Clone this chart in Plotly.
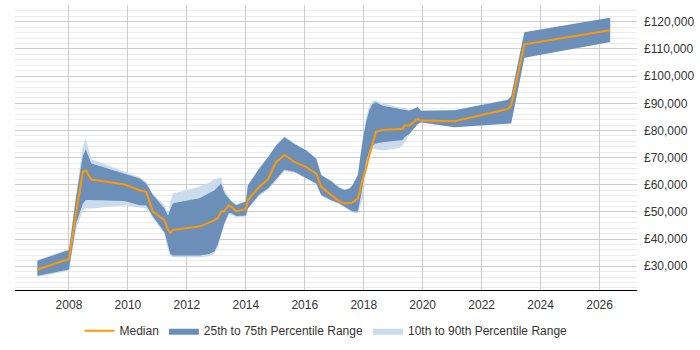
import plotly.graph_objects as go

# decimal-year positions of observations
years = [2006.93, 2008.00, 2008.25, 2008.47, 2008.57, 2008.76, 2009.89, 2010.40, 2010.62, 2010.85,
         2011.24, 2011.36, 2011.44, 2011.53, 2012.43, 2012.77, 2012.94, 2013.05, 2013.16, 2013.28,
         2013.42, 2013.51, 2013.67, 2014.00, 2014.07, 2014.46, 2014.75, 2015.03, 2015.31, 2015.65,
         2016.05, 2016.39, 2016.56, 2016.90, 2017.17, 2017.35, 2017.52, 2017.62, 2017.80, 2017.97,
         2018.08, 2018.19, 2018.30, 2018.41, 2018.64, 2019.20, 2019.32, 2019.38, 2019.55, 2019.83,
         2019.94, 2021.08, 2022.88, 2023.00, 2023.45, 2026.36]

p10 = [26000, 28300, 44000, 50500, 51300, 51300, 52500, 51800, 51300, 47600,
       42000, 36000, 33800, 33300, 33300, 33700, 34800, 37000, 41000, 45500,
       49000, 49000, 48000, 48300, 51000, 56000, 58000, 61500, 65000, 64400,
       62300, 60200, 55900, 54000, 52800, 51500, 50300, 49800, 49500, 55000,
       64000, 70000, 73280, 73000, 72650, 73520, 74500, 75700, 78500, 82200,
       82800, 81200, 82400, 82600, 106800, 112540]

p25 = [26500, 28800, 46000, 53000, 54400, 54400, 54000, 52500, 52500, 48300,
       42500, 37000, 34500, 34000, 34000, 34500, 35500, 38000, 42000, 46000,
       49500, 49500, 48500, 48650, 51300, 56500, 58600, 62000, 65500, 64750,
       62600, 60470, 56190, 54300, 53150, 51900, 50700, 50200, 50100, 59850,
       68400, 72500, 74500, 75200, 75700, 76200, 76500, 77500, 78760, 82400,
       83000, 81200, 82400, 82600, 106800, 112540]

median = [28800, 32700, 50000, 64700, 65300, 61900, 60100, 58000, 57400, 50100,
          47000, 43400, 42300, 43400, 44600, 46100, 47000, 47700, 50100, 50300,
          52500, 51900, 50300, 51000, 54400, 59300, 62000, 68400, 71000, 68400,
          66500, 64130, 59250, 56190, 54000, 53150, 53150, 53520, 54900, 62300,
          66000, 70830, 75500, 79500, 80200, 80500, 80600, 81800, 81800, 84250,
          83630, 83400, 87900, 89120, 111700, 116900]

p75 = [32000, 36000, 56000, 70500, 73000, 67800, 64100, 62300, 60500, 56200,
       51300, 48600, 51000, 53150, 55000, 56800, 58000, 59250, 60500, 56800,
       55000, 53800, 52500, 53800, 59800, 66000, 70000, 74500, 77500, 75000,
       72650, 69620, 63500, 61300, 58900, 58030, 58640, 59850, 63500, 76930,
       83000, 87500, 89740, 90380, 89120, 88000, 87900, 87900, 87290, 88530,
       87290, 87400, 91200, 92560, 116200, 121460]

p90 = [32300, 36300, 57000, 74000, 77000, 69500, 64800, 62800, 61000, 56500,
       52500, 49500, 53500, 56800, 59250, 60800, 62000, 62300, 62800, 58000,
       55500, 54000, 52800, 54000, 60000, 66300, 70300, 74800, 77800, 75300,
       72900, 69900, 63800, 61500, 59100, 58300, 58900, 60100, 64000, 78000,
       85000, 89000, 90900, 91000, 90000, 88500, 88400, 88300, 87500, 88700,
       87300, 87400, 91400, 92700, 116200, 121460]

x_ticks = [2008, 2010, 2012, 2014, 2016, 2018, 2020, 2022, 2024, 2026]
x_tick_labels = [str(y) for y in x_ticks]
y_ticks = [30000, 40000, 50000, 60000, 70000, 80000, 90000, 100000, 110000, 120000]
y_tick_labels = ["£{:,}".format(v) for v in y_ticks]

DARK = "#6b8fb8"
LIGHT = "#c9dbed"
ORANGE = "#ff9900"

fig = go.Figure()

fig.add_trace(go.Scatter(x=years, y=p90, mode="lines", line=dict(width=0, color=LIGHT),
                         showlegend=False, legendgroup="p1090", hoverinfo="skip"))
fig.add_trace(go.Scatter(x=years, y=p10, mode="lines", line=dict(width=0, color=LIGHT),
                         fill="tonexty", fillcolor=LIGHT, name="10th to 90th Percentile Range",
                         legendgroup="p1090", legendrank=3))
fig.add_trace(go.Scatter(x=years, y=p75, mode="lines", line=dict(width=0, color=DARK),
                         showlegend=False, legendgroup="p2575", hoverinfo="skip"))
fig.add_trace(go.Scatter(x=years, y=p25, mode="lines", line=dict(width=0, color=DARK),
                         fill="tonexty", fillcolor=DARK, name="25th to 75th Percentile Range",
                         legendgroup="p2575", legendrank=2))
fig.add_trace(go.Scatter(x=years, y=median, mode="lines", line=dict(width=2, color=ORANGE),
                         name="Median", legendrank=1))

fig.update_layout(
    width=700, height=350,
    margin=dict(l=15, r=63, t=5, b=58),
    paper_bgcolor="white", plot_bgcolor="white",
    font=dict(family="Liberation Sans, Arial, sans-serif", size=12, color="#333333"),
    showlegend=True,
    legend=dict(orientation="h", x=0.5, xanchor="center", y=-0.143, yanchor="middle",
                font=dict(size=12, color="#333333"), traceorder="normal",
                itemwidth=30),
)

fig.update_xaxes(
    range=[2006.17, 2027.27],
    tickvals=x_ticks, ticktext=x_tick_labels,
    showgrid=True, gridcolor="#cccccc", gridwidth=1,
    showline=True, linecolor="#000000", linewidth=1,
    ticks="", zeroline=False,
    ticklabelstandoff=4,
)

fig.update_yaxes(
    range=[21250, 126200], side="right",
    tickvals=y_ticks, ticktext=y_tick_labels,
    showgrid=True, gridcolor="#cccccc", gridwidth=1,
    minor=dict(dtick=2000, tick0=0, showgrid=True, gridcolor="#ebebeb", gridwidth=1),
    showline=False, ticks="", zeroline=False,
    ticklabelstandoff=6,
)

fig.write_html("out.html")
